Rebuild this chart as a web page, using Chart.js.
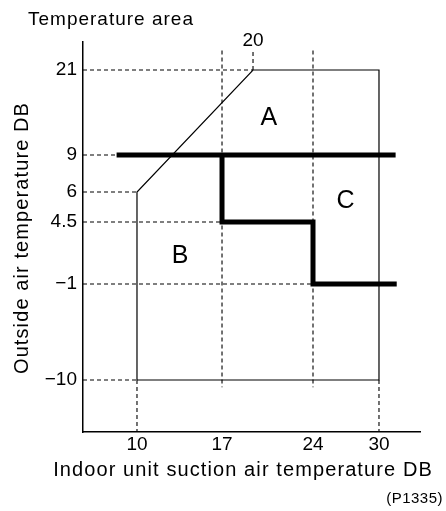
<!DOCTYPE html>
<html>
<head>
<meta charset="utf-8">
<script src="https://cdn.jsdelivr.net/npm/chart.js@4.4.1/dist/chart.umd.min.js"></script>
<style>
  html, body { margin: 0; padding: 0; background: #fff; }
  #wrap { width: 446px; height: 511px; position: relative; }
</style>
</head>
<body>
<div id="wrap"><canvas id="myChart"></canvas></div>
<script>
// tick values and axis ends
const xTicks = [10, 17, 24, 30];
const yTicks = [21, 9, 6, 4.5, -1, -10];
const xRange = [5.5, 33.7];
const yRange = [-15, 25];

// operating range outline
const rangeX = [10, 10, 20, 30, 30, 10];
const rangeY = [-10, 6, 21, 21, -10, -10];

// bold boundary lines
const upperX = [8.3, 31.5];
const upperY = [9, 9];
const stepX = [17, 17, 24, 24, 31.6];
const stepY = [9, 4.5, 4.5, -1, -1];

// dashed guide lines: x1, y1, x2, y2
const guides = [
    [5.5, 21, 20, 21], [20, 21, 20, 23.8], [5.5, 9, 8.3, 9], [5.5, 6, 10, 6],
    [5.5, 4.5, 17, 4.5], [5.5, -1, 24, -1], [5.5, -10, 10, -10],
    [10, -10, 10, -15], [30, -10, 30, -15],
    [17, 23.8, 17, -10.7], [24, 23.8, 24, -10.7]
];

const zones = ["A", "B", "C"];
const zoneX = [21.05, 13.54, 26.96];
const zoneY = [14.57, 1.66, 5.65];

// the drawing is not to scale, so each axis is bent between its ticks
const knots = {
    x: { v: [5.5, 10, 17, 20, 24, 30, 33.7], at: [0, 0.1602, 0.4125, 0.5045, 0.6825, 0.8783, 1] },
    y: { v: [-15, -10, -1, 4.5, 6, 9, 21, 25], at: [0, 0.1333, 0.3795, 0.5385, 0.6154, 0.7103, 0.9282, 1] }
};

const interp = (val, from, to) => {
    let i = 0;
    while (i < from.length - 2 && val > from[i + 1]) i++;
    const t = (val - from[i]) / (from[i + 1] - from[i]);
    return to[i] + t * (to[i + 1] - to[i]);
};

class BentScale extends Chart.LinearScale {
    getPixelForValue(value) {
        if (value === null || value === undefined || isNaN(value)) return NaN;
        const k = knots[this.id];
        return this.getPixelForDecimal(interp(value, k.v, k.at));
    }
    getValueForPixel(pixel) {
        const k = knots[this.id];
        return interp(this.getDecimalForPixel(pixel), k.at, k.v);
    }
}
BentScale.id = "bent";
BentScale.defaults = Chart.LinearScale.defaults;
Chart.register(BentScale);

const FONT = '"Liberation Sans", Arial, sans-serif';
const fmt = (v) => (v < 0 ? "\u2212" + Math.abs(v) : String(v));
const toPts = (xs, ys) => xs.map((v, i) => ({ x: v, y: ys[i] }));

const line = (data, width, dash) => ({
    data: data,
    showLine: true,
    borderColor: "#000",
    borderWidth: width,
    borderDash: dash || [],
    borderJoinStyle: "miter",
    borderCapStyle: "butt",
    pointRadius: 0,
    fill: false,
    tension: 0,
    clip: false
});

const datasets = [
    line(toPts(upperX, upperY), 5),
    line(toPts(stepX, stepY), 5),
    line(toPts(rangeX, rangeY), 1.2)
];
guides.forEach(g => {
    datasets.push(line([{ x: g[0], y: g[1] }, { x: g[2], y: g[3] }], 1.1, [4, 3]));
});

const notes = {
    id: "notes",
    afterDraw(chart) {
        const { ctx } = chart;
        const x = chart.scales.x;
        const y = chart.scales.y;
        ctx.save();
        ctx.fillStyle = "#000";
        ctx.textBaseline = "alphabetic";

        ctx.textAlign = "left";
        ctx.letterSpacing = "1px";
        ctx.font = "19px " + FONT;
        ctx.fillText("Temperature area", 28, 25);

        ctx.letterSpacing = "0px";
        ctx.textAlign = "center";
        ctx.font = "19px " + FONT;
        ctx.fillText("20", x.getPixelForValue(20), 46);

        ctx.font = "25px " + FONT;
        zones.forEach((z, i) => {
            ctx.fillText(z, x.getPixelForValue(zoneX[i]), y.getPixelForValue(zoneY[i]) + 9);
        });

        ctx.letterSpacing = "1.1px";
        ctx.font = "20px " + FONT;
        ctx.fillText("Indoor unit suction air temperature DB", 243, 476);

        ctx.letterSpacing = "0.5px";
        ctx.textAlign = "right";
        ctx.font = "15px " + FONT;
        ctx.fillText("(P1335)", 443, 503);

        ctx.letterSpacing = "1.1px";
        ctx.translate(28, 238);
        ctx.rotate(-Math.PI / 2);
        ctx.textAlign = "center";
        ctx.font = "20px " + FONT;
        ctx.fillText("Outside air temperature DB", 0, 0);
        ctx.restore();
    }
};

new Chart("myChart", {
    type: "scatter",
    data: { datasets: datasets },
    options: {
        responsive: true,
        maintainAspectRatio: false,
        animation: false,
        layout: { padding: { top: 42, right: 26, left: 0, bottom: 0 } },
        plugins: { legend: { display: false }, tooltip: { enabled: false } },
        scales: {
            x: {
                type: "bent",
                min: xRange[0],
                max: xRange[1],
                afterBuildTicks: s => { s.ticks = xTicks.map(v => ({ value: v })); },
                afterFit: s => { s.height = 79; },
                grid: { display: false, drawTicks: false },
                border: { display: true, color: "#000", width: 1.5 },
                ticks: { color: "#000", font: { family: FONT, size: 19 }, padding: 1,
                         maxRotation: 0, autoSkip: false, callback: fmt }
            },
            y: {
                type: "bent",
                min: yRange[0],
                max: yRange[1],
                afterBuildTicks: s => { s.ticks = yTicks.map(v => ({ value: v })); },
                afterFit: s => { s.width = 83; },
                grid: { display: false, drawTicks: false },
                border: { display: true, color: "#000", width: 1.5 },
                ticks: { color: "#000", font: { family: FONT, size: 19 }, padding: 6,
                         autoSkip: false, callback: fmt }
            }
        }
    },
    plugins: [notes]
});
</script>
</body>
</html>
